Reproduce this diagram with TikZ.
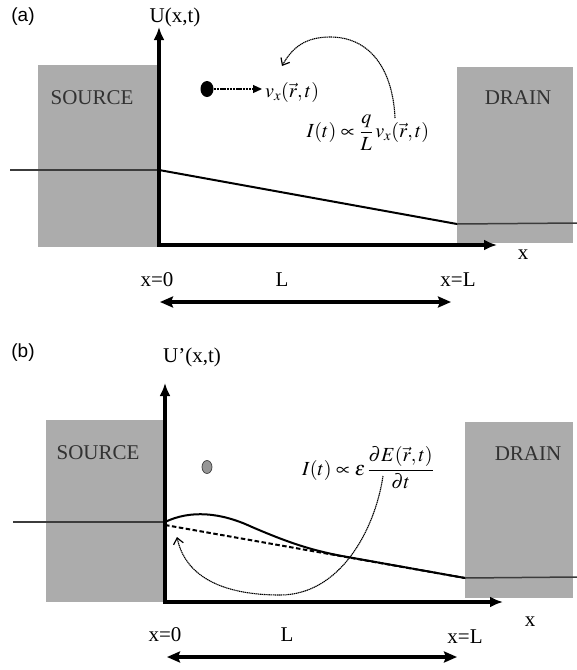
\documentclass[tikz,border=0pt]{standalone}
\usepackage{mathptmx}
\usepackage{fontspec}
\setmainfont{Liberation Serif}
\newfontfamily\arialfont{Liberation Sans}
\usetikzlibrary{arrows.meta,shapes.geometric}
\definecolor{boxgray}{RGB}{172,172,172}
\definecolor{txtgray}{RGB}{50,50,50}
\definecolor{linegray}{RGB}{60,60,60}
\definecolor{dotgray}{RGB}{150,150,150}
\begin{document}
\begin{tikzpicture}[x=1pt,y=-1pt,
  box/.style={fill=boxgray,draw=none,inner sep=0pt,outer sep=0pt,anchor=north west},
  boxlabel/.style={font=\fontsize{21}{21}\selectfont, text=txtgray},
  axislbl/.style={font=\fontsize{21}{21}\selectfont},
  panellbl/.style={font=\arialfont\fontsize{19}{19}\selectfont},
  axes/.style={line width=3.6pt, {Latex[length=13pt,width=11pt]}-{Latex[length=13pt,width=11pt]}},
  lead/.style={draw=linegray, line width=1.5pt},
  slope/.style={line width=2pt},
  span/.style={line width=3.2pt, {Stealth[length=13pt,width=11pt,inset=2pt]}-{Stealth[length=13pt,width=11pt,inset=2pt]}},
  dotcurve/.style={line width=1.1pt, dash pattern=on 1.3pt off 0.6pt, -{Straight Barb[length=6pt,width=10pt,line width=1.2pt]}},
  eq/.style={font=\fontsize{20}{20}\selectfont, inner sep=0pt}
]
\useasboundingbox (0,0) rectangle (577,670);

% ---------------- panel (a) ----------------
\node[box, minimum width=121pt, minimum height=182pt] (srcA) at (38,65) {};
\node[box, minimum width=116pt, minimum height=176pt] (drnA) at (457,67) {};
\node[boxlabel] (srcAlbl) at (92,98) {SOURCE};
\node[boxlabel] (drnAlbl) at (518,98) {DRAIN};
\node[panellbl] (pa) at (23,17) {(a)};
\node[axislbl] (UA) at (175,17) {U(x,t)};

\coordinate (LA) at (10,170);
\coordinate (S0A) at (159,170);
\coordinate (S1A) at (457,224);
\coordinate (RA) at (577,223);
\draw[lead] (LA) -- (S0A);
\draw[slope] (S0A) -- (S1A);
\draw[lead] (S1A) -- (RA);

\coordinate (OA) at (159,245);
\coordinate (YA) at (159,27);
\coordinate (XA) at (497,245);
\draw[axes] (YA) -- (OA) -- (XA);
\node[axislbl] (xA) at (523,255) {x};
\node[axislbl] (x0A) at (157,280) {x=0};
\node[axislbl] (LlA) at (282,280) {L};
\node[axislbl] (xLA) at (458,280) {x=L};
\coordinate (spA0) at (160,302);
\coordinate (spA1) at (451,302);
\draw[span] (spA0) -- (spA1);

\node[ellipse, fill=black, minimum width=13pt, minimum height=16pt, inner sep=0pt] (dotA) at (207,89) {};
\node[eq, anchor=west] (vxA) at (265,92) {$v_x(\vec{r},t)$};
\draw[line width=1.2pt, dash pattern=on 2.5pt off 0.7pt, shorten >=3pt, -{Triangle[length=9pt,width=8pt]}] (dotA.east) -- (dotA.east -| vxA.west);
\node[eq] (IA) at (368,133) {$I(t)\propto\displaystyle\frac{q}{L}\,v_x(\vec{r},t)$};
\coordinate (cA0) at (395,118);
\coordinate (cAm) at (330,37);
\coordinate (cA1) at (282,66);
\draw[dotcurve] (cA0) .. controls (393,72) and (372,37) .. (cAm) .. controls (305,37) and (292,48) .. (cA1);

% ---------------- panel (b) ----------------
\node[box, minimum width=119pt, minimum height=182pt] (srcB) at (46,420) {};
\node[box, minimum width=108pt, minimum height=176pt] (drnB) at (465,422) {};
\node[boxlabel] (srcBlbl) at (98,453) {SOURCE};
\node[boxlabel] (drnBlbl) at (528,454) {DRAIN};
\node[panellbl] (pb) at (23,353) {(b)};
\node[axislbl] (UB) at (192,357) {U’(x,t)};

\coordinate (LB) at (13,522);
\coordinate (S0B) at (165,522);
\coordinate (S1B) at (465,578);
\coordinate (RB) at (577,577);
\draw[lead] (LB) -- (S0B);
\draw[lead] (S1B) -- (RB);
\coordinate (D0B) at (165,525);
\coordinate (MB) at (342,556);
\draw[slope] (S0B) .. controls (190,510) and (220,512) .. (252,527) .. controls (287,542) and (310,550) .. (MB) -- (S1B);
\draw[slope, dash pattern=on 4.5pt off 2.5pt] (D0B) -- (S1B);

\coordinate (OB) at (165,602);
\coordinate (YB) at (165,383);
\coordinate (XB) at (503,602);
\draw[axes] (YB) -- (OB) -- (XB);
\node[axislbl] (xB) at (530,622) {x};
\node[axislbl] (x0B) at (165,635) {x=0};
\node[axislbl] (LlB) at (287,635) {L};
\node[axislbl] (xLB) at (465,637) {x=L};
\coordinate (spB0) at (167,657);
\coordinate (spB1) at (457,657);
\draw[span] (spB0) -- (spB1);

\node[ellipse, fill=dotgray, draw=linegray, line width=0.7pt, minimum width=10pt, minimum height=13pt, inner sep=0pt] (dotB) at (207,467) {};
\node[eq] (IB) at (368,468) {$I(t)\propto\varepsilon\,\displaystyle\frac{\partial E(\vec{r},t)}{\partial t}$};
\coordinate (cB0) at (383,476);
\coordinate (cBm) at (280,595);
\coordinate (cB1) at (177,537);
\draw[dotcurve] (cB0) .. controls (375,530) and (340,595) .. (cBm) .. controls (220,595) and (185,575) .. (cB1);
\end{tikzpicture}
\end{document}
